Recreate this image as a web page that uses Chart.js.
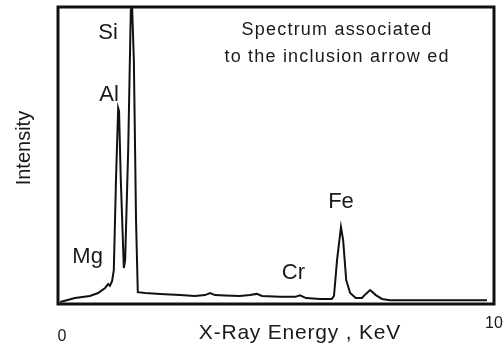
<!DOCTYPE html>
<html>
<head>
<meta charset="utf-8">
<script src="https://cdn.jsdelivr.net/npm/chart.js@4.4.1/dist/chart.umd.min.js"></script>
<style>
  html, body { margin: 0; padding: 0; background: #fff; }
  #wrap { width: 503px; height: 350px; }
</style>
</head>
<body>
<div id="wrap"><canvas id="spectrum-chart"></canvas></div>
<script>
// EDS spectrum, energy in keV and intensity in % of the Si peak
const energyKeV = [
    0.05, 0.39, 0.73, 0.92, 1.08, 1.15, 1.19, 1.24, 1.28, 1.33, 1.38, 1.40, 1.44, 1.51,
    1.54, 1.61, 1.67, 1.70, 1.74, 1.79, 1.83, 2.00, 2.34, 2.80, 3.14, 3.37, 3.49, 3.60,
    3.83, 4.17, 4.40, 4.56, 4.68, 5.09, 5.44, 5.55, 5.69, 6.01, 6.28, 6.33, 6.40, 6.49,
    6.54, 6.61, 6.70, 6.83, 6.97, 7.06, 7.16, 7.29, 7.43, 7.61, 8.30, 8.99, 9.84
];
const intensity = [
    0.7, 2.0, 2.7, 3.7, 5.4, 6.7, 6.1, 7.7, 11.4, 41.8, 66.0, 65.0, 42.0, 12.1,
    14.8, 51.9, 99.0, 100.0, 82.0, 28.0, 4.0, 3.7, 3.4, 3.0, 2.7, 3.0, 3.7, 3.0,
    2.9, 2.7, 3.0, 3.4, 2.7, 2.4, 2.4, 2.9, 2.0, 1.7, 1.7, 2.7, 14.8, 25.9,
    21.5, 8.1, 3.7, 2.0, 2.0, 3.4, 4.7, 3.0, 1.7, 1.3, 1.3, 1.3, 1.3
];
const xTickLabels = ['0', '10'];
const elementNames = ['Mg', 'Al', 'Si', 'Cr', 'Fe'];

const spectrumPoints = energyKeV.map((e, i) => ({ x: e, y: intensity[i] }));

// label anchors in data units (keV, intensity)
const elementAnchors = {
    Mg: [0.68, 15.8],
    Al: [1.17, 70.4],
    Si: [1.15, 91.2],
    Cr: [5.40, 10.4],
    Fe: [6.49, 34.3]
};

const textFont = '"Liberation Sans", Arial, sans-serif';

const decorPlugin = {
    id: 'decor',
    afterDatasetsDraw(chart) {
        const ctx = chart.ctx;
        const area = chart.chartArea;
        const xs = chart.scales.x;
        const ys = chart.scales.y;
        ctx.save();

        // frame
        ctx.strokeStyle = '#111';
        ctx.lineWidth = 3;
        ctx.strokeRect(area.left, area.top, area.right - area.left, area.bottom - area.top);

        ctx.fillStyle = '#1a1a1a';
        ctx.textAlign = 'center';
        ctx.textBaseline = 'middle';

        // element labels
        ctx.font = '22px ' + textFont;
        elementNames.forEach(name => {
            const a = elementAnchors[name];
            ctx.fillText(name, xs.getPixelForValue(a[0]), ys.getPixelForValue(a[1]));
        });

        // note
        ctx.font = '18px ' + textFont;
        ctx.letterSpacing = '1.2px';
        ctx.fillText('Spectrum associated', xs.getPixelForValue(6.4), ys.getPixelForValue(92.3));
        ctx.fillText('to the inclusion arrow ed', xs.getPixelForValue(6.4), ys.getPixelForValue(83.2));

        // x axis title and end ticks
        ctx.letterSpacing = '0.8px';
        ctx.font = '21px ' + textFont;
        ctx.fillText('X-Ray Energy , KeV', xs.getPixelForValue(5.55), area.bottom + 29);
        ctx.letterSpacing = '0px';
        ctx.font = '16px ' + textFont;
        ctx.fillText(xTickLabels[0], xs.getPixelForValue(0) + 4, area.bottom + 33);
        ctx.fillText(xTickLabels[1], xs.getPixelForValue(10), area.bottom + 20);

        // y axis title
        ctx.font = '20px ' + textFont;
        ctx.translate(24, ys.getPixelForValue(52.5));
        ctx.rotate(-Math.PI / 2);
        ctx.fillText('Intensity', 0, 0);
        ctx.restore();
    }
};

const spectrumCtx = document.getElementById('spectrum-chart').getContext('2d');
const spectrumChart = new Chart(spectrumCtx, {
    type: 'line',
    data: {
        datasets: [{
            label: 'Intensity',
            data: spectrumPoints,
            borderColor: '#111',
            borderWidth: 2,
            pointRadius: 0,
            tension: 0,
            fill: false
        }]
    },
    options: {
        responsive: true,
        maintainAspectRatio: false,
        animation: false,
        layout: {
            padding: { left: 58, top: 7, right: 9, bottom: 46 }
        },
        plugins: {
            legend: { display: false },
            tooltip: { enabled: false }
        },
        scales: {
            x: { type: 'linear', min: 0, max: 10, display: false },
            y: { min: 0, max: 100, display: false }
        }
    },
    plugins: [decorPlugin]
});
</script>
</body>
</html>
